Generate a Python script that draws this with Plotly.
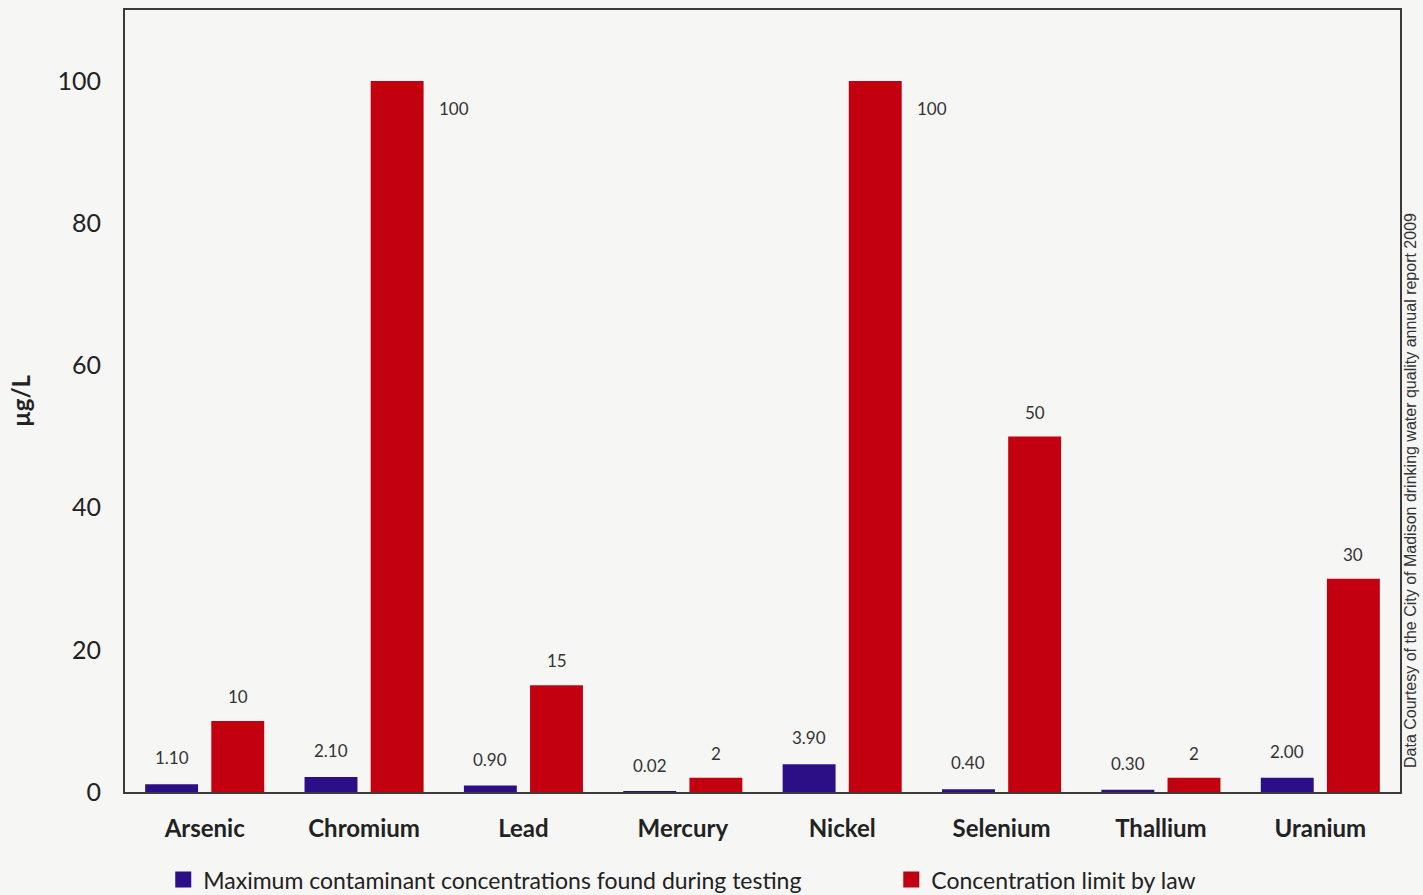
import plotly.graph_objects as go

# Heavy metals in Madison drinking water (µg/L)
metals = ["Arsenic", "Chromium", "Lead", "Mercury", "Nickel", "Selenium", "Thallium", "Uranium"]
max_found = [1.10, 2.10, 0.90, 0.02, 3.90, 0.40, 0.30, 2.00]
legal_limit = [10, 100, 15, 2, 100, 50, 2, 30]
y_ticks = [0, 20, 40, 60, 80, 100]

found_name = "Maximum contaminant concentrations found during testing"
limit_name = "Concentration limit by law"
source_note = "Data Courtesy of the City of Madison drinking water quality annual report 2009"

BLUE = "#2c0f86"
RED = "#c2000f"
INK = "#222222"
BG = "#f6f6f5"
FONT = "Lato, 'Open Sans', sans-serif"

W, H = 1423, 895
M_L, M_R, M_T, M_B = 125, 23, 10, 103
BARGAP, GROUPGAP = 0.17, 0.2

fig = go.Figure()
fig.add_trace(go.Bar(x=metals, y=max_found, name=found_name, marker_color=BLUE,
                     marker_line_width=0, showlegend=False))
fig.add_trace(go.Bar(x=metals, y=legal_limit, name=limit_name, marker_color=RED,
                     marker_line_width=0, showlegend=False))

# legend swatches as larger squares, one legend box per series
for name, color, lg in [(found_name, BLUE, "legend"), (limit_name, RED, "legend2")]:
    fig.add_trace(go.Scatter(x=[None], y=[None], mode="markers", name=name, legend=lg,
                             marker=dict(symbol="square", size=18, color=color)))

# value labels above the bars (horizontal offset of each bar within its group)
cat_w = (W - M_L - M_R) / len(metals)
slot = cat_w * (1 - BARGAP) / 2
bar_w = slot * (1 - GROUPGAP)
label_font = dict(family=FONT, size=17, color="#333333")
annotations = []
for m, v in zip(metals, max_found):
    annotations.append(dict(x=m, y=v, xref="x", yref="y", text=f"{v:.2f}",
                            showarrow=False, xshift=-slot / 2, yshift=14, yanchor="bottom",
                            font=label_font))
for m, v in zip(metals, legal_limit):
    if v >= 100:
        annotations.append(dict(x=m, y=v, xref="x", yref="y", text=f"{v:g}",
                                showarrow=False, xshift=slot / 2 + bar_w / 2 + 13,
                                yshift=-27, xanchor="left", yanchor="middle",
                                font=label_font))
    else:
        annotations.append(dict(x=m, y=v, xref="x", yref="y", text=f"{v:g}",
                                showarrow=False, xshift=slot / 2, yshift=12, yanchor="bottom",
                                font=label_font))

annotations.append(dict(x=1.0, y=0.0, xref="paper", yref="paper", text=source_note,
                        showarrow=False, textangle=-90, xanchor="left", yanchor="bottom",
                        xshift=0, yshift=22,
                        font=dict(family="'Liberation Sans', Arial, sans-serif", size=16,
                                  color="#333333")))

legend_style = dict(orientation="h", xanchor="left", yanchor="middle",
                    bgcolor="rgba(0,0,0,0)", font=dict(family=FONT, size=23, color=INK),
                    itemclick=False, itemdoubleclick=False)

fig.update_layout(
    width=W, height=H,
    margin=dict(l=M_L, r=M_R, t=M_T, b=M_B, autoexpand=False),
    paper_bgcolor=BG, plot_bgcolor=BG,
    barmode="group", bargap=BARGAP, bargroupgap=GROUPGAP,
    font=dict(family=FONT, color=INK),
    showlegend=True,
    legend=dict(x=0.03, y=-0.112, **legend_style),
    legend2=dict(x=0.601, y=-0.112, **legend_style),
    annotations=annotations,
)
fig.update_xaxes(showline=True, linecolor="#3a3a3a", linewidth=2, mirror=True,
                 showgrid=False, ticks="", ticklabelstandoff=14,
                 tickfont=dict(family=FONT, size=24, color=INK, weight="bold"))
fig.update_yaxes(range=[0, 110], tickvals=y_ticks, showline=True, linecolor="#3a3a3a",
                 linewidth=2, mirror=True, showgrid=False, zeroline=False, ticks="",
                 ticklabelstandoff=17,
                 tickfont=dict(family=FONT, size=25, color=INK),
                 title=dict(text="µg/L", standoff=20,
                            font=dict(family=FONT, size=24, color=INK, weight="bold")))

fig.write_html("out.html")
